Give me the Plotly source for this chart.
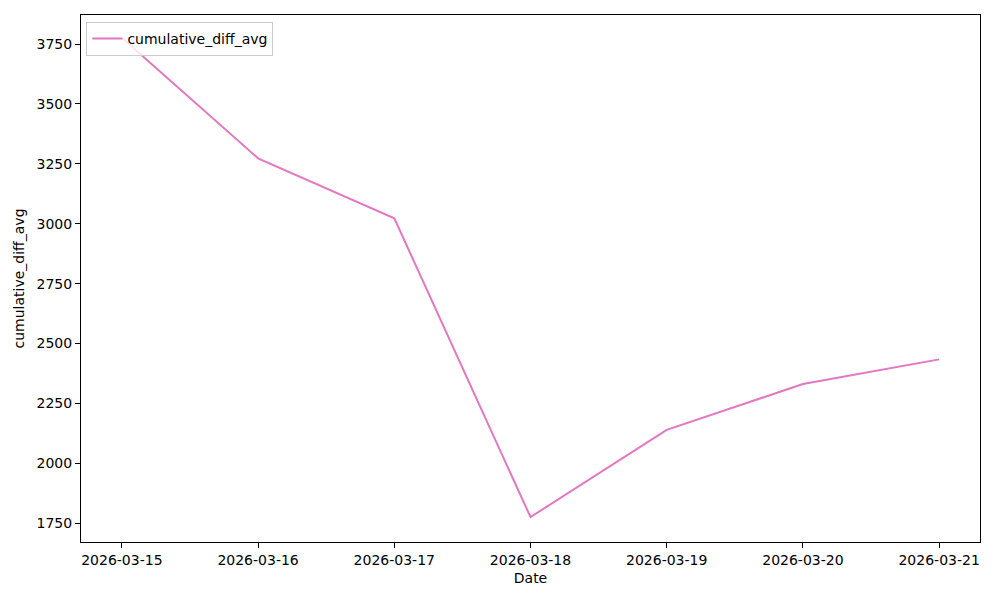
import plotly.graph_objects as go

dates = ["2026-03-15", "2026-03-16", "2026-03-17", "2026-03-18", "2026-03-19", "2026-03-20", "2026-03-21"]
cumulative_diff_avg = [3776, 3273, 3023, 1776, 2140, 2331, 2434]

fig = go.Figure()
fig.add_trace(go.Scatter(
    x=dates, y=cumulative_diff_avg, mode="lines", name="cumulative_diff_avg",
    line=dict(color="#e377c2", width=2),
))

font = dict(family="DejaVu Sans", size=14, color="black")
fig.update_layout(
    width=992, height=592,
    margin=dict(l=73, r=20, t=7, b=58),
    paper_bgcolor="white", plot_bgcolor="white",
    font=font,
    showlegend=True,
    legend=dict(x=0.006, y=0.987, xanchor="left", yanchor="top",
                bgcolor="rgba(255,255,255,0.8)", bordercolor="#cccccc", borderwidth=1,
                font=font),
    xaxis=dict(
        type="date", range=["2026-03-14 16:48", "2026-03-21 07:12"],
        tickformat="%Y-%m-%d", dtick=86400000, tick0="2026-03-15",
        showgrid=False, zeroline=False, showline=True, linecolor="black", linewidth=1,
        mirror=True, ticks="outside", ticklen=5, tickcolor="black",
        title=dict(text="Date", font=font, standoff=6),
    ),
    yaxis=dict(
        range=[1672, 3871], tickvals=[1750, 2000, 2250, 2500, 2750, 3000, 3250, 3500, 3750],
        showgrid=False, zeroline=False, showline=True, linecolor="black", linewidth=1,
        mirror=True, ticks="outside", ticklen=5, tickcolor="black",
        title=dict(text="cumulative_diff_avg", font=font, standoff=8),
    ),
)

fig.write_html("out.html")
